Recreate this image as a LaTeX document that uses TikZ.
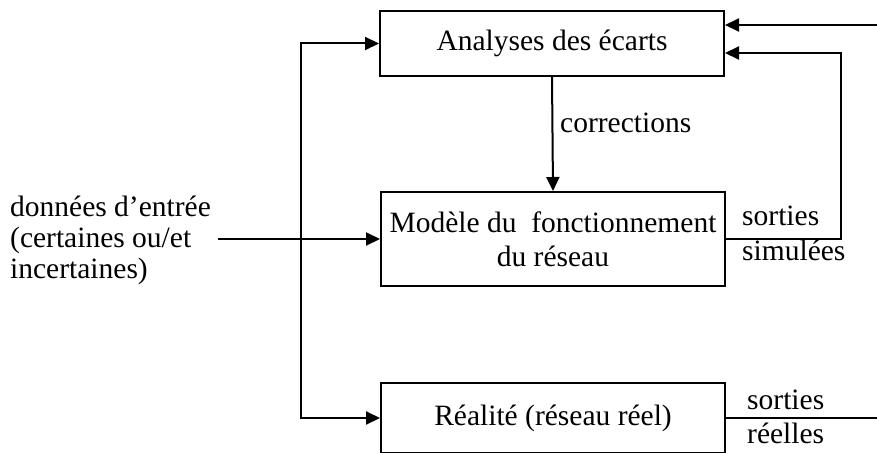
\documentclass[tikz,border=0pt]{standalone}
\usepackage{fontspec}
\setmainfont{Liberation Serif}
\usetikzlibrary{arrows.meta,calc}
\begin{document}
\begin{tikzpicture}[x=1pt,y=-1pt,
  font=\fontsize{29.5}{34}\selectfont,
  box/.style={draw,line width=2pt,inner sep=0pt,minimum width=344pt,align=center},
  conn/.style={line width=2pt},
  arr/.style={conn,-{Triangle[length=14pt,width=13pt]}},
  lbl/.style={inner sep=0pt,anchor=base west}]
\useasboundingbox (0,0) rectangle (877,452);
\clip (0,0) rectangle (877,452);
\node[box,minimum height=65pt] (top) at (552,43.5) {Analyses des écarts};
\node[box,minimum height=94pt] (mid) at (553,239) {Modèle du\ \ fonctionnement\\du réseau};
\node[box,minimum height=70pt] (real) at (553,418) {Réalité (réseau réel)};
\node[lbl,anchor=base west,align=left,font=\fontsize{29.5}{31}\selectfont] (inp) at (10,278) {données d’entrée\\(certaines ou/et\\incertaines)};
\node[lbl,anchor=west] (corr) at (560,123) {corrections};
\node[lbl] (ss) at (742,225) {sorties};
\node[lbl] (sim) at (742,260) {simulées};
\node[lbl] (sr) at (747,409) {sorties};
\node[lbl] (ree) at (747,443) {réelles};
\coordinate (in) at (218,239);
\coordinate (j) at (301,239);
\coordinate (r1) at (877,25);
\coordinate (r2) at (841,53);
\coordinate (out) at (877,418);
\draw[line width=2.8pt] (in) -- (j);
\draw[arr] (j) -- (mid.west);
\draw[arr] (j) |- (top.west);
\draw[arr] (j) |- (real.west);
\draw[arr] (top.south) -- (mid.north);
\draw[arr] (mid.east) -| (r2) -- (r2 -| top.east);
\draw[arr] (r1) -- (r1 -| top.east);
\draw[conn] (real.east) -- (out);
\end{tikzpicture}
\end{document}
